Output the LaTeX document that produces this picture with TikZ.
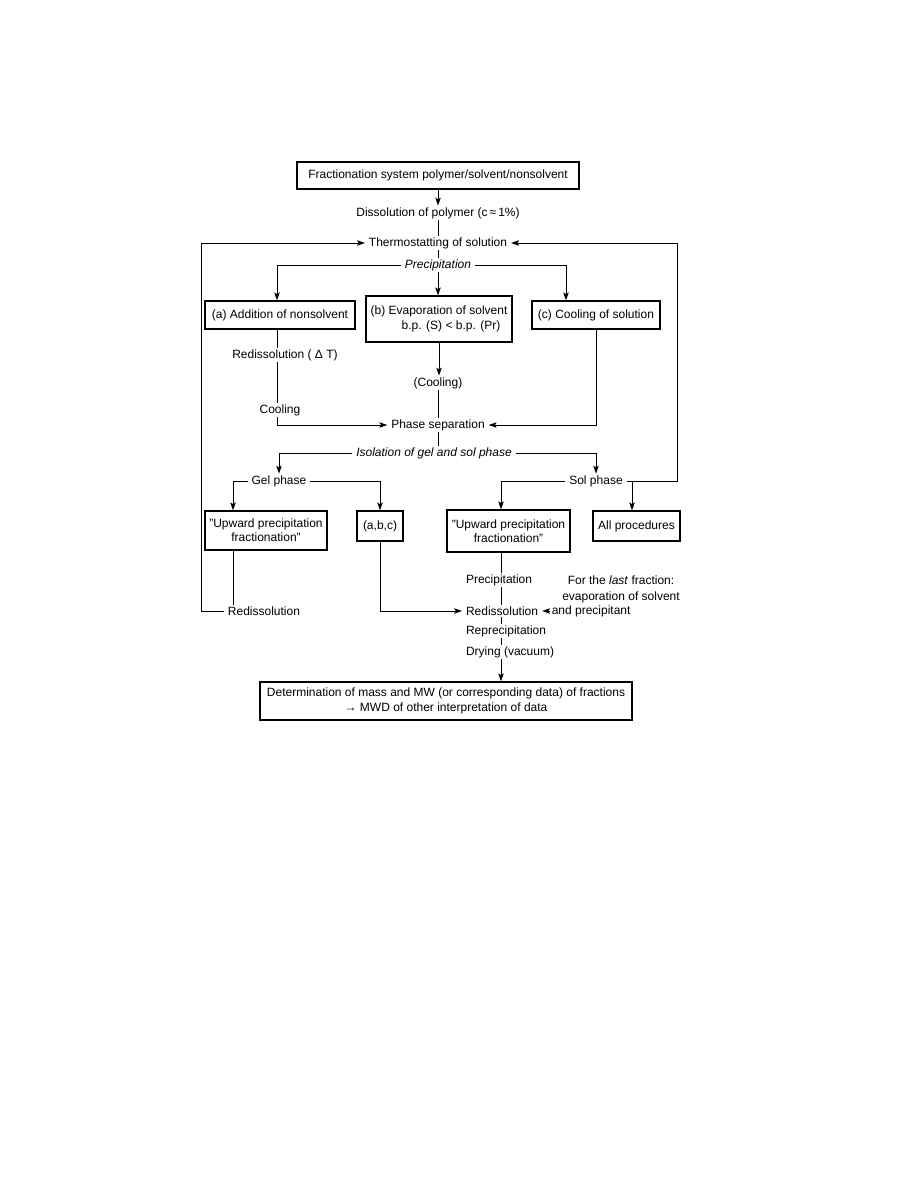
\documentclass[tikz,border=0pt]{standalone}
\usepackage{fontspec}
\setmainfont{Liberation Sans}
\usetikzlibrary{arrows.meta}
\newcommand\pxu{0.6667pt}
\begin{document}
\begin{tikzpicture}[x=0.6667pt,y=-0.6667pt,
  every node/.style={font=\fontsize{8}{9.5}\selectfont, inner xsep=2.5pt, inner ysep=1pt},
  it/.style={font=\fontsize{8}{9.5}\selectfont\itshape},
  box/.style={draw, line width=0.85pt, inner sep=2pt, align=center},
  ln/.style={line width=0.65pt},
  arr/.style={ln, -{Stealth[length=5.2pt,width=3.6pt,inset=1pt]}},
]
\useasboundingbox (0,0) rectangle (918,1188);
\coordinate (ax) at (277,0);
\coordinate (col) at (501,0);
\coordinate (rx) at (677,0);
\coordinate (lx) at (201,0);
\coordinate (ulx) at (233,0);
\coordinate (cx) at (566,0);
\coordinate (apx) at (632,0);

\node[box, minimum width=282*\pxu, minimum height=27*\pxu] (top) at (438,175.5) {Fractionation system polymer/solvent/nonsolvent};
\node (dis) at (438,213) {Dissolution of polymer (c\,≈\,1\%)};
\node (thermo) at (438,243) {Thermostatting of solution};
\node[it] (prec) at (438,265) {Precipitation};
\node[box, minimum width=150*\pxu, minimum height=28*\pxu] (boxa) at (280,315) {(a) Addition of nonsolvent};
\node[box, minimum width=146*\pxu, minimum height=46*\pxu] (boxb) at (439,319) {(b) Evaporation of solvent\\\hspace*{16pt}b.p. (S) < b.p. (Pr)};
\node[box, minimum width=128*\pxu, minimum height=28*\pxu] (boxc) at (596,315) {(c) Cooling of solution};

\node (r1) at (285,355) {Redissolution ( Δ T)};
\node (cool) at (280,410) {Cooling};
\node (cl2) at (438,383) {(Cooling)};
\node (phase) at (438,425) {Phase separation};
\node[it] (iso) at (434,453) {Isolation of gel and sol phase};

\node (gel) at (279,481) {Gel phase};
\node (sol) at (596,481) {Sol phase};
\node[box, minimum width=122*\pxu, minimum height=39*\pxu] (ul) at (266,530.5) {"Upward precipitation\\fractionation"};
\node[box, minimum width=46*\pxu, minimum height=30*\pxu] (abc) at (380,526) {(a,b,c)};
\node[box, minimum width=123*\pxu, minimum height=42*\pxu] (ur) at (508.5,531) {"Upward precipitation\\fractionation"};
\node[box, minimum width=87*\pxu, minimum height=30*\pxu] (ap) at (636.5,526) {All procedures};

\node (rd1) at (264,611) {Redissolution};
\node[anchor=west] (prec2) at (462,580) {Precipitation};
\node[anchor=west] (rd2) at (462,611) {Redissolution};
\node[anchor=west] (rep) at (462,631) {Reprecipitation};
\node[anchor=west] (dry) at (462,652) {Drying (vacuum)};
\node (lf1) at (621,580) {For the \textit{last} fraction:};
\node (lf2) at (621,597) {evaporation of solvent};
\node[anchor=west, inner xsep=1pt] (lf3) at (550,611) {and precipitant};
\node[box, minimum width=372*\pxu, minimum height=38*\pxu] (bot) at (446,701) {Determination of mass and MW (or corresponding data) of fractions\\→ MWD of other interpretation of data};

% connectors
\draw[arr] (top.south) -- (dis.north);
\draw[ln] (dis.south) -- (thermo.north);
\draw[ln] (thermo.south) -- (prec.north);
\draw[arr] (prec.west) -| (ax |- boxa.north);
\draw[arr] (prec.south) -- (prec.south |- boxb.north);
\draw[arr] (prec.east) -| (cx |- boxc.north);

\draw[ln] (ax |- boxa.south) -- (ax |- r1.north);
\draw[ln] (ax |- r1.south) -- (ax |- cool.north);
\draw[arr] (ax |- cool.south) |- (phase.west);
\draw[arr] (boxb.south) -- (boxb.south |- cl2.north);
\draw[ln] (cl2.south) -- (phase.north);
\draw[arr] (boxc.south) |- (phase.east);
\draw[ln] (phase.south) -- (phase.south |- iso.north);
\draw[arr] (iso.west) -| (gel.north);
\draw[arr] (iso.east) -| (sol.north);

\draw[arr] (gel.west) -| (ulx |- ul.north);
\draw[arr] (gel.east) -| (abc.north);
\draw[arr] (sol.west) -| (col |- ur.north);
\draw[arr] (sol.east) -- (rx |- sol.east) -- (rx |- thermo.east) -- (thermo.east);
\draw[arr] (apx |- sol.east) -- (apx |- ap.north);

\draw[ln] (ulx |- ul.south) -- (ulx |- rd1.north);
\draw[arr] (rd1.west) -- (lx |- rd1.west) -- (lx |- thermo.west) -- (thermo.west);
\draw[arr] (abc.south) |- (rd2.west);
\draw[ln] (col |- ur.south) -- (col |- prec2.north);
\draw[ln] (col |- prec2.south) -- (col |- rd2.north);
\draw[ln] (col |- rd2.south) -- (col |- rep.north);
\draw[ln] (col |- rep.south) -- (col |- dry.north);
\draw[arr] (col |- dry.south) -- (col |- bot.north);
\draw[arr] (lf3.west) -- (rd2.east);
\end{tikzpicture}
\end{document}
